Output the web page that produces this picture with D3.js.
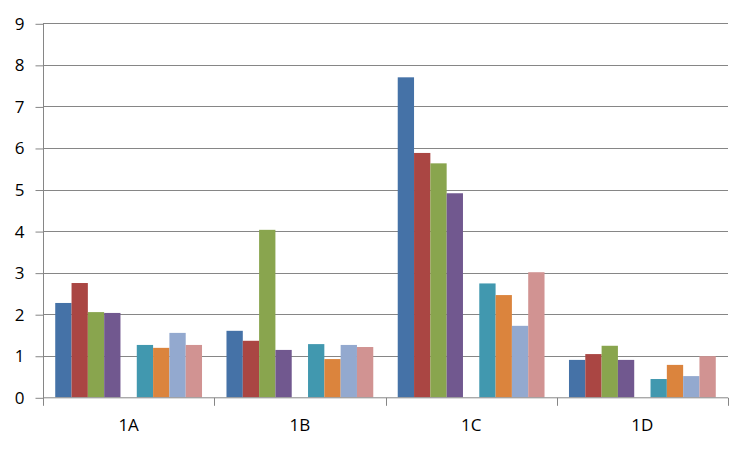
<!DOCTYPE html>
<html>
<head>
<meta charset="utf-8">
<script src="https://cdn.jsdelivr.net/npm/d3@7"></script>
<style>
  body { margin: 0; background: #fff; }
  text { font-family: "Open Sans", "Liberation Sans", sans-serif; fill: #000; }
</style>
</head>
<body>
<svg id="chart" width="750" height="449"></svg>
<script>
const categories = ['1A', '1B', '1C', '1D'];
const seriesNames = ['s1', 's2', 's3', 's4', 's5', 's6', 's7', 's8', 's9'];
// fifth series is empty in the source chart
const s1 = [2.27, 1.60, 7.70, 0.90];
const s2 = [2.75, 1.36, 5.88, 1.04];
const s3 = [2.05, 4.03, 5.63, 1.24];
const s4 = [2.03, 1.14, 4.91, 0.90];
const s5 = [null, null, null, null];
const s6 = [1.26, 1.28, 2.74, 0.44];
const s7 = [1.19, 0.92, 2.46, 0.78];
const s8 = [1.55, 1.26, 1.72, 0.51];
const s9 = [1.26, 1.21, 3.01, 0.99];
const yTicks = [0, 1, 2, 3, 4, 5, 6, 7, 8, 9];
const colors = ['#4572a7', '#aa4643', '#89a54e', '#71588f', '#999999',
                '#4198af', '#db843d', '#93a9cf', '#d19392'];

const series = [s1, s2, s3, s4, s5, s6, s7, s8, s9];

const plotLeft = 43, plotRight = 728, plotTop = 23.3, plotBottom = 397.3;

const svg = d3.select('#chart');

const x0 = d3.scaleBand().domain(categories).range([plotLeft, plotRight]).padding(0);
// gap width 150% -> 0.75 bar each side
const barW = x0.bandwidth() / (seriesNames.length + 1.5);
const x1 = d3.scaleBand().domain(seriesNames)
  .range([barW * 0.75, x0.bandwidth() - barW * 0.75]).padding(0);
const y = d3.scaleLinear().domain([0, 9]).range([plotBottom, plotTop]);

// gridlines
svg.append('g')
  .selectAll('line')
  .data(yTicks.filter(d => d > 0))
  .enter()
  .append('line')
  .attr('x1', plotLeft).attr('x2', plotRight)
  .attr('y1', d => Math.round(y(d)) + 0.5)
  .attr('y2', d => Math.round(y(d)) + 0.5)
  .attr('stroke', '#868686')
  .attr('stroke-width', 1);

// bars
const groups = svg.append('g')
  .selectAll('g')
  .data(categories)
  .enter()
  .append('g')
  .attr('transform', d => `translate(${x0(d)},0)`);

groups.selectAll('rect')
  .data((c, ci) => series.map((s, si) => ({ name: seriesNames[si], v: s[ci], color: colors[si] }))
    .filter(d => d.v != null))
  .enter()
  .append('rect')
  .attr('x', d => x1(d.name))
  .attr('width', x1.bandwidth())
  .attr('y', d => y(d.v))
  .attr('height', d => plotBottom - y(d.v))
  .attr('fill', d => d.color);

// y axis
const yAxis = d3.axisLeft(y).tickValues(yTicks).tickSize(8).tickPadding(11);
const yg = svg.append('g')
  .attr('transform', `translate(${plotLeft + 0.5},0.5)`)
  .call(yAxis);
yg.select('.domain').remove();
yg.append('line').attr('x1', 0).attr('x2', 0).attr('y1', plotTop).attr('y2', plotBottom + 8);
yg.selectAll('line').attr('stroke', '#868686');
yg.selectAll('text').style('font-size', '17px').attr('fill', '#000');

// x axis
const xAxis = d3.axisBottom(x0).tickSize(0).tickPadding(21);
const xg = svg.append('g')
  .attr('transform', `translate(0,${plotBottom + 0.5})`)
  .call(xAxis);
xg.select('.domain').attr('stroke', '#868686').attr('d', `M${plotLeft},0H${plotRight}`);
xg.selectAll('text').style('font-size', '17px').attr('fill', '#000');
xg.append('g')
  .selectAll('line')
  .data(categories.map(c => x0(c) + x0.bandwidth()))
  .enter()
  .append('line')
  .attr('x1', d => Math.round(d) + 0.5).attr('x2', d => Math.round(d) + 0.5)
  .attr('y1', 0).attr('y2', 8)
  .attr('stroke', '#868686');
</script>
</body>
</html>
